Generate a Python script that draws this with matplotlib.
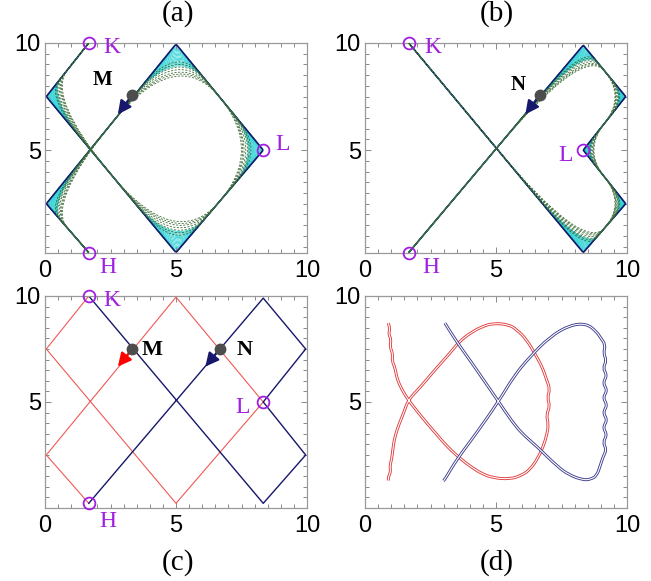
import numpy as np
import matplotlib
matplotlib.use("Agg")
import matplotlib.pyplot as plt
from matplotlib.path import Path
from matplotlib.patches import PathPatch
import matplotlib.patheffects as pe
from matplotlib.ticker import MultipleLocator

# ---- data ----
# zigzag path through K -> ... -> H (panel a / red in c)
red_x = [1.67, 0.05, 5.0, 8.33, 5.0, 0.05, 1.67]
red_y = [10.0, 7.5, 0.22, 5.0, 9.95, 2.5, 0.22]
# zigzag path for panel b / blue in c
blue_x = [1.67, 8.33, 9.95, 8.33, 9.95, 8.33, 1.67]
blue_y = [10.0, 0.22, 2.5, 5.0, 7.5, 9.9, 0.22]

# corner rounding fractions for the cyan and green families
cyan_t = [0.02, 0.04, 0.06, 0.08, 0.10, 0.12, 0.14, 0.16, 0.18, 0.20, 0.22, 0.24,
          0.26, 0.28, 0.30, 0.32, 0.34]
green_t = [0.28, 0.32, 0.36, 0.40, 0.44, 0.47, 0.50]

# labelled points
K = (1.67, 10.0)
H = (1.67, 0.22)
L = (8.33, 5.0)
M = (3.33, 7.5)
N = (6.67, 7.5)
arrow_tip_M = (2.78, 6.67)
arrow_tip_N = (6.12, 6.67)

# panel d traces
red_d_x = [0.89, 0.95, 0.90, 1.00, 0.95, 1.06, 1.03, 1.15, 1.22, 1.40, 1.65, 2.00, 2.35,
           2.75, 3.12, 3.55, 4.00, 4.45, 4.90, 5.53, 6.00, 6.30, 6.60, 6.81, 6.95, 7.00,
           6.92, 7.06, 6.96, 7.06, 6.93, 6.78, 6.55, 6.17, 5.80, 5.50, 4.90, 4.45, 4.00,
           3.60, 3.24, 2.80, 2.35, 2.00, 1.65, 1.45, 1.28, 1.15, 1.08, 1.02, 0.95, 0.98,
           0.90, 0.89]
red_d_y = [8.72, 8.45, 8.20, 7.95, 7.60, 7.30, 6.95, 6.60, 6.10, 5.60, 5.10, 4.55, 4.02,
           3.45, 2.92, 2.42, 1.98, 1.62, 1.42, 1.36, 1.55, 1.82, 2.35, 2.92, 3.50, 3.95,
           4.40, 4.80, 5.20, 5.60, 6.05, 6.60, 7.14, 7.95, 8.40, 8.65, 8.72, 8.55, 8.24,
           7.85, 7.30, 6.70, 6.05, 5.55, 5.10, 4.40, 3.90, 3.39, 2.95, 2.30, 2.00, 1.70,
           1.50, 1.30]
blue_d_x = [3.05, 3.50, 4.00, 4.55, 5.09, 5.60, 6.00, 6.55, 7.32, 7.80, 8.33, 8.60, 8.84,
            8.98, 9.08, 9.22, 9.08, 9.24, 9.08, 9.25, 9.08, 9.25, 9.08, 9.25, 9.08, 9.24,
            9.08, 9.22, 9.10, 9.18, 8.98, 8.84, 8.46, 7.82, 7.06, 6.30, 5.70, 5.10, 4.26,
            3.50, 3.05, 2.99]
blue_d_y = [8.72, 7.84, 6.98, 6.00, 5.03, 4.10, 3.50, 2.92, 1.98, 1.55, 1.32, 1.35, 1.51,
            2.00, 2.40, 2.75, 3.10, 3.45, 3.80, 4.15, 4.50, 4.85, 5.20, 5.55, 5.90, 6.25,
            6.60, 6.95, 7.30, 7.70, 8.05, 8.31, 8.70, 8.63, 8.08, 7.14, 6.25, 5.03, 3.54,
            2.29, 1.35, 1.28]

x_major = [0, 5, 10]
y_major = [5, 10]

navy = '#17176b'
cyan = '#2fd3d6'
green = '#3d6b36'
purple = '#a01fe0'
red_c = '#ee5a55'
red_d = '#e23a3a'
blue_d = '#3c3c8c'
gray_dot = '#4d4d4d'

plt.rcParams['font.family'] = ['Liberation Sans', 'DejaVu Sans']
serif = 'Liberation Serif'


def corner_path(xs, ys, t):
    """polyline with every interior corner replaced by a quadratic curve"""
    verts = [(xs[0], ys[0])]
    codes = [Path.MOVETO]
    for i in range(1, len(xs) - 1):
        v = np.array([xs[i], ys[i]])
        a = np.array([xs[i - 1], ys[i - 1]])
        b = np.array([xs[i + 1], ys[i + 1]])
        verts += [tuple(v + t * (a - v)), tuple(v), tuple(v + t * (b - v))]
        codes += [Path.LINETO, Path.CURVE3, Path.CURVE3]
    verts.append((xs[-1], ys[-1]))
    codes.append(Path.LINETO)
    return Path(verts, codes)


def style_axes(ax, ylim):
    ax.set_xlim(0, 10)
    ax.set_ylim(*ylim)
    ax.set_xticks(x_major)
    ax.set_yticks(y_major)
    ax.xaxis.set_minor_locator(MultipleLocator(0.5))
    ax.yaxis.set_minor_locator(MultipleLocator(0.5))
    ax.tick_params(which='both', direction='in', top=True, right=True,
                   colors='#888888', labelcolor='black', labelsize=17, width=0.7)
    ax.tick_params(which='major', length=4, pad=5)
    ax.tick_params(which='minor', length=3)
    ax.tick_params(axis='y', pad=3)
    for s in ax.spines.values():
        s.set_color('#999999')
        s.set_linewidth(0.9)


def label(ax, xy, text, color, size=17, weight='normal'):
    ax.text(xy[0], xy[1], text, color=color, fontsize=size, family=serif,
            fontweight=weight, ha='center', va='center', clip_on=False)


def circle(ax, xy):
    ax.plot(xy[0], xy[1], 'o', mfc='none', mec=purple, ms=8.5, mew=1.3,
            clip_on=False, zorder=6)


def dot_arrow(ax, xy, tip, color):
    ax.annotate('', xy=tip, xytext=xy,
                arrowprops=dict(arrowstyle='-|>', color=color, lw=1.6,
                                mutation_scale=20, shrinkA=0, shrinkB=0),
                zorder=7)
    ax.plot(xy[0], xy[1], 'o', color=gray_dot, ms=7.5, zorder=8)


def fan_panel(ax, xs, ys):
    for t in cyan_t:
        ax.add_patch(PathPatch(corner_path(xs, ys, t), fill=False,
                               ec=cyan, lw=0.6, zorder=1))
    ax.add_patch(PathPatch(corner_path(xs, ys, 0.01), fill=False,
                           ec=navy, lw=1.2, zorder=2))
    for t in green_t:
        ax.add_patch(PathPatch(corner_path(xs, ys, t), fill=False, ec=green,
                               lw=0.6, ls=(0, (2.5, 1.8)), zorder=3))


fig = plt.figure(figsize=(6.51, 5.81), dpi=100)
w, h_top, h_bot = 262 / 651, 210 / 581, 212 / 581
ax_a = fig.add_axes([45 / 651, 1 - 253 / 581, w, h_top])
ax_b = fig.add_axes([365 / 651, 1 - 253 / 581, w, h_top])
ax_c = fig.add_axes([45 / 651, 1 - 508 / 581, w, h_bot])
ax_d = fig.add_axes([365 / 651, 1 - 508 / 581, w, h_bot])

# (a)
fan_panel(ax_a, red_x, red_y)
circle(ax_a, K); circle(ax_a, H); circle(ax_a, L)
label(ax_a, (2.55, 9.8), 'K', purple)
label(ax_a, (2.4, -0.47), 'H', purple)
label(ax_a, (9.05, 5.25), 'L', purple)
label(ax_a, (2.2, 8.25), 'M', 'black', size=15, weight='bold')
dot_arrow(ax_a, (M[0], M[1] + 0.08), arrow_tip_M, navy)
style_axes(ax_a, (0.2, 10.0))

# (b)
fan_panel(ax_b, blue_x, blue_y)
circle(ax_b, K); circle(ax_b, H); circle(ax_b, L)
label(ax_b, (2.6, 9.8), 'K', purple)
label(ax_b, (2.5, -0.47), 'H', purple)
label(ax_b, (7.65, 4.77), 'L', purple)
label(ax_b, (5.85, 8.05), 'N', 'black', size=15, weight='bold')
dot_arrow(ax_b, (N[0], N[1] + 0.08), arrow_tip_N, navy)
style_axes(ax_b, (0.2, 10.0))

# (c)
ax_c.plot(red_x, red_y, color=red_c, lw=0.8, zorder=2)
ax_c.plot(blue_x, blue_y, color=navy, lw=1.0, zorder=2)
circle(ax_c, K); circle(ax_c, H); circle(ax_c, L)
label(ax_c, (2.55, 9.8), 'K', purple)
label(ax_c, (2.4, -0.64), 'H', purple)
label(ax_c, (7.55, 4.72), 'L', purple)
label(ax_c, (4.1, 7.45), 'M', 'black', size=16, weight='bold')
label(ax_c, (7.62, 7.45), 'N', 'black', size=16, weight='bold')
dot_arrow(ax_c, M, arrow_tip_M, 'red')
dot_arrow(ax_c, N, arrow_tip_N, navy)
style_axes(ax_c, (0.0, 10.0))

# (d) smooth double-stroked traces
for xs, ys, c in [(red_d_x, red_d_y, red_d), (blue_d_x, blue_d_y, blue_d)]:
    ax_d.add_patch(PathPatch(corner_path(xs, ys, 0.5), fill=False, ec=c, lw=2.1,
                             path_effects=[pe.Stroke(linewidth=2.1, foreground=c),
                                           pe.Stroke(linewidth=0.8, foreground='white')]))
style_axes(ax_d, (0.0, 10.0))

# panel titles
for txt, x, y in [('(a)', 178, 14), ('(b)', 497, 14), ('(c)', 178, 563), ('(d)', 497, 563)]:
    fig.text(x / 651, 1 - y / 581, txt, family=serif, fontsize=21,
             ha='center', va='center')

fig.savefig('out.png', dpi=100)
